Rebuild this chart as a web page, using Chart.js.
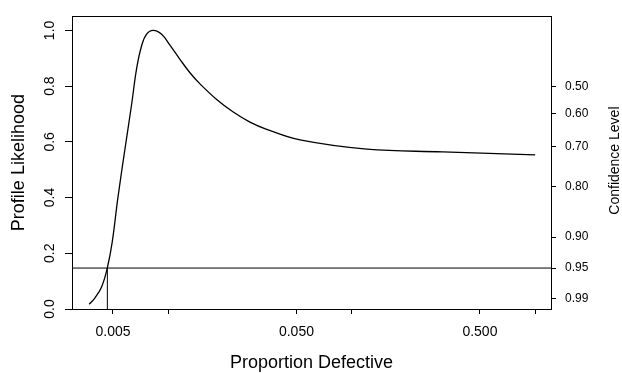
<!DOCTYPE html>
<html>
<head>
<meta charset="utf-8">
<script src="https://cdn.jsdelivr.net/npm/chart.js@4.4.1/dist/chart.umd.min.js"></script>
<style>
  html, body { margin: 0; padding: 0; background: #ffffff; }
  #wrap { width: 622px; height: 373px; position: relative; }
</style>
</head>
<body>
<div id="wrap"><canvas id="c" width="622" height="373"></canvas></div>
<script>
// ---- data ----
const proportion = [0.00371, 0.00399, 0.00434, 0.00466, 0.00496, 0.00532, 0.00589, 0.00632, 0.00673, 0.00717, 0.00763, 0.0083, 0.00921, 0.01022, 0.01159, 0.01314, 0.0149, 0.01837, 0.02262, 0.0279, 0.0344, 0.0523, 0.121, 0.314, 1.0];
const likelihood = [0.017, 0.040, 0.080, 0.148, 0.243, 0.40, 0.60, 0.735, 0.864, 0.946, 0.987, 1.0, 0.986, 0.947, 0.896, 0.848, 0.808, 0.752, 0.707, 0.671, 0.645, 0.607, 0.574, 0.564, 0.553];

const xTickValues = [0.005, 0.01, 0.05, 0.1, 0.5, 1.0];
const xTickLabels = ['0.005', '', '0.050', '', '0.500', ''];
const yTickValues = [0.0, 0.2, 0.4, 0.6, 0.8, 1.0];
const yTickLabels = ['0.0', '0.2', '0.4', '0.6', '0.8', '1.0'];
const confLevels = ['0.50', '0.60', '0.70', '0.80', '0.90', '0.95', '0.99'];
const confPositions = [0.797, 0.702, 0.584, 0.440, 0.258, 0.147, 0.036];

const cutoff = 0.147;       // likelihood level for 95% confidence
const lowerBound = 0.00466; // where the curve crosses the cutoff
const xRange = [0.00299, 1.22];
const yRange = [0, 1.051];

// ---- chart ----
const FONT = "'Liberation Sans', Arial, Helvetica, sans-serif";
const curve = proportion.map((p, i) => ({ x: p, y: likelihood[i] }));

const rightTitle = {
  id: 'rightTitle',
  afterDraw(chart) {
    const s = chart.scales.y2;
    const ctx = chart.ctx;
    ctx.save();
    ctx.font = "14px " + FONT;
    ctx.fillStyle = '#000';
    ctx.textAlign = 'center';
    ctx.textBaseline = 'middle';
    ctx.translate(s.right - 7, (s.top + s.bottom) / 2 - 2);
    ctx.rotate(-Math.PI / 2);
    ctx.fillText('Confidence Level', 0, 0);
    ctx.restore();
  }
};

new Chart(document.getElementById('c'), {
  type: 'line',
  data: {
    datasets: [
      { data: curve, borderColor: '#000', borderWidth: 1.3, pointRadius: 0, tension: 0.4, fill: false },
      { data: [{ x: xRange[0], y: cutoff }, { x: xRange[1], y: cutoff }], borderColor: '#000', borderWidth: 1, pointRadius: 0, tension: 0 },
      { data: [{ x: lowerBound, y: yRange[0] }, { x: lowerBound, y: cutoff }], borderColor: '#000', borderWidth: 1, pointRadius: 0, tension: 0 }
    ]
  },
  options: {
    responsive: false,
    animation: false,
    events: [],
    layout: { padding: 0 },
    plugins: { legend: { display: false }, tooltip: { enabled: false } },
    scales: {
      x: {
        type: 'logarithmic', position: 'bottom', min: xRange[0], max: xRange[1],
        afterBuildTicks: s => { s.ticks = xTickValues.map(v => ({ value: v })); },
        afterFit: s => { s.height = 64; },
        ticks: {
          autoSkip: false, maxRotation: 0, minRotation: 0, padding: 10, color: '#000',
          font: { family: FONT, size: 14 },
          callback: (v, i) => xTickLabels[i]
        },
        grid: { drawOnChartArea: false, drawTicks: true, tickLength: 5, color: '#000' },
        border: { display: true, color: '#000', width: 1 },
        title: { display: true, text: 'Proportion Defective', color: '#000', font: { family: FONT, size: 18, lineHeight: 1 }, padding: { top: 0, bottom: 1 } }
      },
      x2: {
        type: 'logarithmic', position: 'top', min: xRange[0], max: xRange[1],
        afterFit: s => { s.height = 10; },
        ticks: { display: false },
        grid: { display: false, drawTicks: false },
        border: { display: true, color: '#000', width: 1 }
      },
      y: {
        type: 'linear', position: 'left', min: yRange[0], max: yRange[1],
        afterBuildTicks: s => { s.ticks = yTickValues.map(v => ({ value: v })); },
        afterFit: s => { s.width = 72; },
        ticks: {
          autoSkip: false, minRotation: 90, maxRotation: 90, crossAlign: 'center', padding: 5, color: '#000',
          font: { family: FONT, size: 14 },
          callback: (v, i) => yTickLabels[i]
        },
        grid: { drawOnChartArea: false, drawTicks: true, tickLength: 7, color: '#000' },
        border: { display: true, color: '#000', width: 1 },
        title: { display: true, text: 'Profile Likelihood', color: '#000', font: { family: FONT, size: 18, lineHeight: 1.2 }, padding: { top: 8, bottom: 0 } }
      },
      y2: {
        type: 'linear', position: 'right', min: yRange[0], max: yRange[1],
        afterBuildTicks: s => { s.ticks = confPositions.map(v => ({ value: v })); },
        afterFit: s => { s.width = 71; },
        ticks: {
          autoSkip: false, padding: 9, color: '#000',
          font: { family: FONT, size: 12 },
          callback: (v, i) => confLevels[i]
        },
        grid: { drawOnChartArea: false, drawTicks: true, tickLength: 5, color: '#000' },
        border: { display: true, color: '#000', width: 1 }
      }
    }
  },
  plugins: [rightTitle]
});
</script>
</body>
</html>
